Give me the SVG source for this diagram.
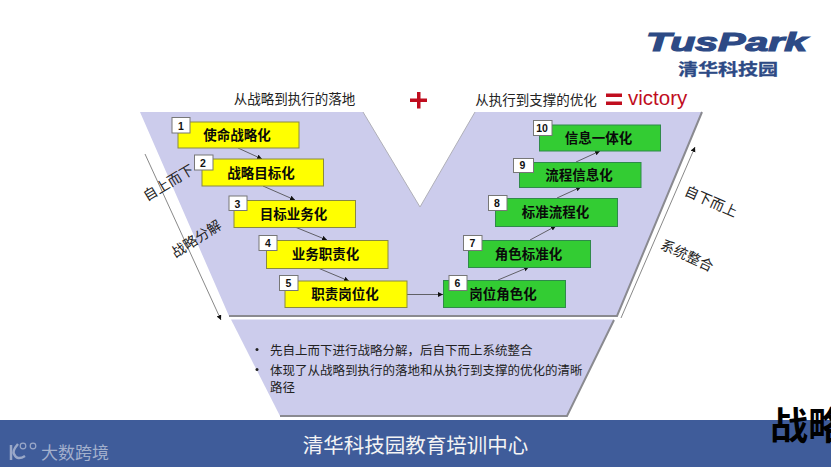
<svg xmlns="http://www.w3.org/2000/svg" width="831" height="468" viewBox="0 0 831 468">
<style>
text{font-family:"Liberation Sans","Noto Sans CJK SC",sans-serif;fill:#111}
.panel{fill:#ccccec}
.edge{fill:none;stroke:#8a8a90;stroke-width:2}
.y{fill:#ffff00;stroke:#8a8a40;stroke-width:1}
.g{fill:#33cc33;stroke:#2f8a4a;stroke-width:1}
.n{fill:#fff;stroke:#777;stroke-width:1}
.t{font-size:13.500px;font-weight:700;text-anchor:middle;fill:#0a0a0a}
.num{font-size:10.500px;font-weight:700;text-anchor:middle;fill:#111}
.lab{font-size:13.500px;text-anchor:middle;fill:#222}
.body{font-size:12.500px;fill:#222}
.c{fill:none;stroke:#444;stroke-width:.8;marker-end:url(#a)}
.thin{fill:none;stroke:#555;stroke-width:.7;marker-end:url(#a)}
.red{fill:#c00d1e}
</style>
<defs><marker id="a" markerWidth="6" markerHeight="6" refX="5" refY="2.500" orient="auto" markerUnits="userSpaceOnUse"><path d="M0 0L5 2.500L0 5z" fill="#111"/></marker></defs>
<rect width="831" height="468" fill="#fff"/>
<g id="v-panel"><path class="panel" d="M140 112H363L420 207L475 112H702L617 316H229Z"/><path class="edge" d="M702 112L617 316H229"/><path d="M363 112L420 207L475 112" fill="none" stroke="#b0b0b8" stroke-width="1"/></g>
<g id="lower-panel"><path class="panel" d="M231 319.500H614L567 416H280Z"/><path class="edge" d="M614 320L567 416H280"/>
<circle cx="257" cy="349.500" r="1.500" fill="#222"/><circle cx="257" cy="369.500" r="1.500" fill="#222"/>
<text class="body" x="270" y="354.500">先自上而下进行战略分解，后自下而上系统整合</text>
<text class="body" x="270" y="375">体现了从战略到执行的落地和从执行到支撑的优化的清晰</text>
<text class="body" x="270" y="392">路径</text></g>
<g id="connectors">
<path class="c" d="M238 148L262 159"/><path class="c" d="M263 186L295 200"/><path class="c" d="M295 227L327 240"/><path class="c" d="M318 268L349 281"/><path class="c" d="M407 294.500H443"/><path class="c" d="M498 280L529 267"/><path class="c" d="M530 240L556 226"/><path class="c" d="M557 198L581 187"/><path class="c" d="M576 162L600 151"/>
<path class="thin" d="M145 154L221 320"/><path class="thin" d="M621 318L695 147"/>
</g>
<g id="n1"><rect class="y" x="178" y="122" width="121" height="26"/><rect class="n" x="172" y="117.500" width="18" height="15.500"/><text class="num" x="181" y="129.500">1</text><text class="t" x="237" y="140">使命战略化</text></g>
<g id="n2"><rect class="y" x="202" y="159" width="121.500" height="27"/><rect class="n" x="194.500" y="155" width="18.500" height="15"/><text class="num" x="203" y="167">2</text><text class="t" x="261" y="178">战略目标化</text></g>
<g id="n3"><rect class="y" x="234" y="200.500" width="121.500" height="27"/><rect class="n" x="229" y="196" width="18" height="14.500"/><text class="num" x="237.500" y="207.500">3</text><text class="t" x="293.500" y="219">目标业务化</text></g>
<g id="n4"><rect class="y" x="266.500" y="240.500" width="121.500" height="28"/><rect class="n" x="259" y="235.500" width="18" height="15"/><text class="num" x="268" y="246.500">4</text><text class="t" x="325.500" y="259">业务职责化</text></g>
<g id="n5"><rect class="y" x="285" y="281" width="122" height="26.500"/><rect class="n" x="279.500" y="275.500" width="18.500" height="15"/><text class="num" x="288.500" y="287">5</text><text class="t" x="345" y="299">职责岗位化</text></g>
<g id="n6"><rect class="g" x="443.500" y="280.500" width="122" height="27"/><rect class="n" x="449" y="275.500" width="18" height="15"/><text class="num" x="457.500" y="287">6</text><text class="t" x="503" y="299">岗位角色化</text></g>
<g id="n7"><rect class="g" x="468.500" y="240.500" width="122" height="27"/><rect class="n" x="463.500" y="235.500" width="18.500" height="15"/><text class="num" x="472.500" y="246.500">7</text><text class="t" x="528.500" y="259">角色标准化</text></g>
<g id="n8"><rect class="g" x="495.500" y="198.500" width="122" height="28"/><rect class="n" x="488.500" y="195.500" width="18.500" height="15"/><text class="num" x="497" y="207">8</text><text class="t" x="555.500" y="217">标准流程化</text></g>
<g id="n9"><rect class="g" x="519.500" y="162.500" width="121.500" height="25"/><rect class="n" x="513.500" y="158.500" width="20" height="14"/><text class="num" x="522.500" y="169">9</text><text class="t" x="579" y="180">流程信息化</text></g>
<g id="n10"><rect class="g" x="539.500" y="125" width="121" height="26"/><rect class="n" x="533.500" y="120.500" width="18.500" height="15"/><text class="num" x="542" y="132">10</text><text class="t" x="598.500" y="143">信息一体化</text></g>
<g id="labels">
<text class="lab" x="294.500" y="104">从战略到执行的落地</text>
<text class="lab" x="536" y="105">从执行到支撑的优化</text>
<rect class="red" x="410" y="98.500" width="17" height="3.500"/><rect class="red" x="417" y="92" width="3.500" height="16.500"/>
<rect class="red" x="606" y="93.500" width="16" height="3.500"/><rect class="red" x="606" y="101.500" width="16" height="3.500"/>
<text x="628" y="105" font-size="20.500" style="fill:#c00d1e">victory</text>
<text class="lab" style="font-size:14px" transform="translate(171 187) rotate(-31)">自上而下</text>
<text class="lab" style="font-size:14px" transform="translate(199 243) rotate(-33)">战略分解</text>
<text class="lab" style="font-size:14px" transform="translate(709 206) rotate(24)">自下而上</text>
<text class="lab" style="font-size:14px" transform="translate(685 260) rotate(25)">系统整合</text>
</g>
<g id="logo">
<text x="646" y="51" font-size="26" font-weight="700" font-style="italic" textLength="161" lengthAdjust="spacingAndGlyphs" stroke="#2d4a85" stroke-width="1.200" style="fill:#2d4a85">TusPark</text>
<text x="678" y="75" font-size="16" font-weight="700" textLength="100" lengthAdjust="spacingAndGlyphs" stroke="#2d4a85" stroke-width=".3" style="fill:#2d4a85">清华科技园</text>
</g>
<g id="footer">
<rect y="420" width="831" height="47" fill="#3f5c9a"/>
<text x="415.500" y="452.500" font-size="20.500" text-anchor="middle" style="fill:#f4f4f4">清华科技园教育培训中心</text>
<g fill="none" stroke="#9aa8c8"><path d="M11 445V460" stroke-width="2.500"/><path d="M18 444Q12 451 14 454Q17 461 25 456" stroke-width="2.500"/><circle cx="23" cy="446" r="2.800" stroke-width="1.200"/><circle cx="33" cy="446" r="2.800" stroke-width="1.200"/></g>
<text x="41" y="459" font-size="17" textLength="68" lengthAdjust="spacingAndGlyphs" style="fill:#a3b0cd">大数跨境</text>
<text x="770" y="439" font-size="38" font-weight="700" style="fill:#000">战略</text>
</g>
</svg>
